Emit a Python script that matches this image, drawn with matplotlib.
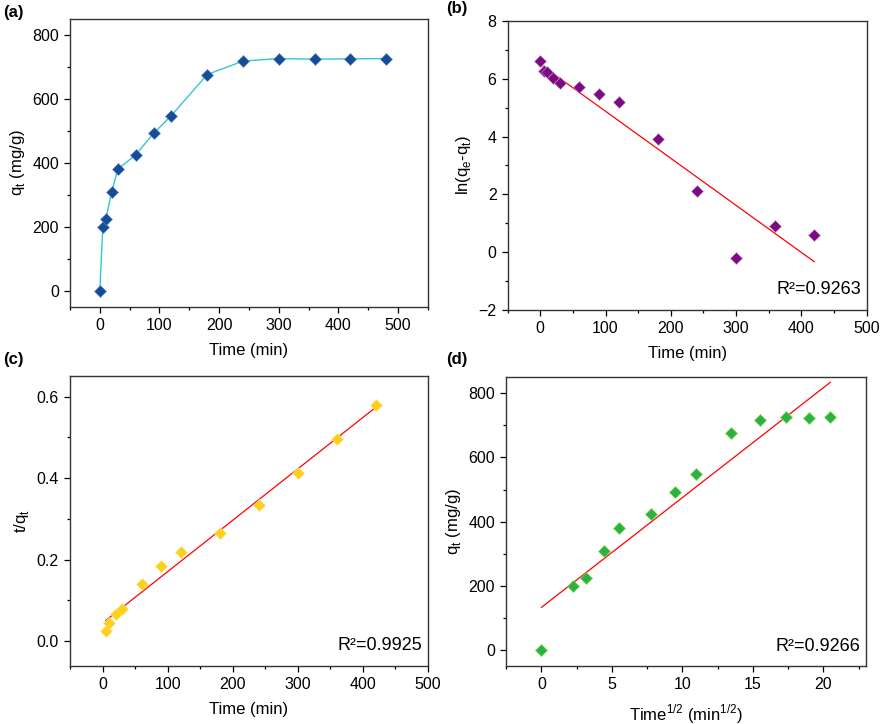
import numpy as np
import matplotlib
matplotlib.use('Agg')
import matplotlib.pyplot as plt
from matplotlib.ticker import MultipleLocator, AutoMinorLocator

plt.rcParams['font.family'] = ['Liberation Sans', 'DejaVu Sans']
plt.rcParams['font.size'] = 10

# kinetic data
t = [0, 5, 10, 20, 30, 60, 90, 120, 180, 240, 300, 360, 420, 480]
qt = [0, 200, 225, 310, 380, 425, 492, 548, 676, 718, 726, 724, 725, 726]

# (b) pseudo-first-order
t_b = [0, 5, 10, 20, 30, 60, 90, 120, 180, 240, 300, 360, 420]
ln_qe_qt = [6.60, 6.28, 6.22, 6.03, 5.85, 5.70, 5.47, 5.18, 3.93, 2.10, -0.20, 0.90, 0.60]

# (c) pseudo-second-order
t_c = [5, 10, 20, 30, 60, 90, 120, 180, 240, 300, 360, 420]
t_over_q = [0.025, 0.044, 0.065, 0.079, 0.141, 0.183, 0.219, 0.266, 0.334, 0.413, 0.496, 0.579]

# (d) intraparticle diffusion
sqrt_t = [0, 2.24, 3.16, 4.47, 5.48, 7.75, 9.49, 10.95, 13.42, 15.49, 17.32, 18.97, 20.49]
q_d = [0, 200, 225, 310, 380, 425, 492, 548, 676, 718, 726, 724, 725]

r2_labels = ['R²=0.9263', 'R²=0.9925', 'R²=0.9266']


def style(ax):
    ax.tick_params(which='both', direction='out', top=False, right=False, labelsize=11.5)
    ax.tick_params(which='major', length=4.5, width=0.9)
    ax.tick_params(which='minor', length=2.5, width=0.9)
    ax.xaxis.set_minor_locator(AutoMinorLocator(2))
    ax.yaxis.set_minor_locator(AutoMinorLocator(2))
    ax.xaxis.labelpad = 7
    for s in ax.spines.values():
        s.set_linewidth(1.0)
        s.set_color('#333333')


def fit_line(ax, x, y):
    x = np.asarray(x, float)
    k, b = np.polyfit(x, y, 1)
    xs = np.array([x.min(), x.max()])
    ax.plot(xs, k * xs + b, color='red', lw=0.9, zorder=2)


fig = plt.figure(figsize=(8.86, 7.24), dpi=100)

ax1 = fig.add_axes([0.079, 0.576, 0.404, 0.398])
ax2 = fig.add_axes([0.573, 0.572, 0.405, 0.399])
ax3 = fig.add_axes([0.079, 0.080, 0.404, 0.400])
ax4 = fig.add_axes([0.5714, 0.080, 0.4056, 0.399])

# (a)
ax1.plot(t, qt, color='#35c6d0', lw=1.0, zorder=2)
ax1.plot(t, qt, 'D', ms=6, color='#174d97', mec='#5f8ac8', mew=0.4, zorder=3)
ax1.set_xlim(-50, 550)
ax1.set_ylim(-50, 850)
ax1.xaxis.set_major_locator(MultipleLocator(100))
ax1.yaxis.set_major_locator(MultipleLocator(200))
ax1.set_xlabel('Time (min)', fontsize=12)
ax1.set_ylabel('q$_\\mathregular{t}$ (mg/g)', fontsize=12)

# (b)
fit_line(ax2, t_b, ln_qe_qt)
ax2.plot(t_b, ln_qe_qt, 'D', ms=6, color='#7d0a85', mec='#c79ac9', mew=0.4, ls='none', zorder=3)
ax2.set_xlim(-50, 500)
ax2.set_ylim(-2, 8)
ax2.xaxis.set_major_locator(MultipleLocator(100))
ax2.yaxis.set_major_locator(MultipleLocator(2))
ax2.set_xlabel('Time (min)', fontsize=12)
ax2.set_ylabel('ln(q$_\\mathregular{e}$-q$_\\mathregular{t}$)', fontsize=12)
ax2.text(0.985, 0.04, r2_labels[0], transform=ax2.transAxes, ha='right', va='bottom', fontsize=13)

# (c)
fit_line(ax3, t_c, t_over_q)
ax3.plot(t_c, t_over_q, 'D', ms=6, color='#fdd01b', mec='#fde58a', mew=0.4, ls='none', zorder=3)
ax3.set_xlim(-50, 500)
ax3.set_ylim(-0.062, 0.65)
ax3.xaxis.set_major_locator(MultipleLocator(100))
ax3.yaxis.set_major_locator(MultipleLocator(0.2))
ax3.set_xlabel('Time (min)', fontsize=12)
ax3.set_ylabel('t/q$_\\mathregular{t}$', fontsize=12)
ax3.text(0.985, 0.04, r2_labels[1], transform=ax3.transAxes, ha='right', va='bottom', fontsize=13)

# (d)
fit_line(ax4, sqrt_t, q_d)
ax4.plot(sqrt_t, q_d, 'D', ms=6, color='#2cb14a', mec='#8ae03a', mew=0.5, ls='none', zorder=3)
ax4.set_xlim(-2.5, 23)
ax4.set_ylim(-50, 850)
ax4.xaxis.set_major_locator(MultipleLocator(5))
ax4.yaxis.set_major_locator(MultipleLocator(200))
ax4.set_xlabel('Time$^\\mathregular{1/2}$ (min$^\\mathregular{1/2}$)', fontsize=12)
ax4.set_ylabel('q$_\\mathregular{t}$ (mg/g)', fontsize=12)
ax4.text(0.985, 0.04, r2_labels[2], transform=ax4.transAxes, ha='right', va='bottom', fontsize=13)

for ax in (ax1, ax2, ax3, ax4):
    style(ax)

for lab, x, y in [('(a)', 0.004, 0.983), ('(b)', 0.504, 0.988),
                  ('(c)', 0.004, 0.503), ('(d)', 0.504, 0.503)]:
    fig.text(x, y, lab, fontsize=12, fontweight='bold', ha='left', va='center')

fig.savefig('out.png', dpi=100)
